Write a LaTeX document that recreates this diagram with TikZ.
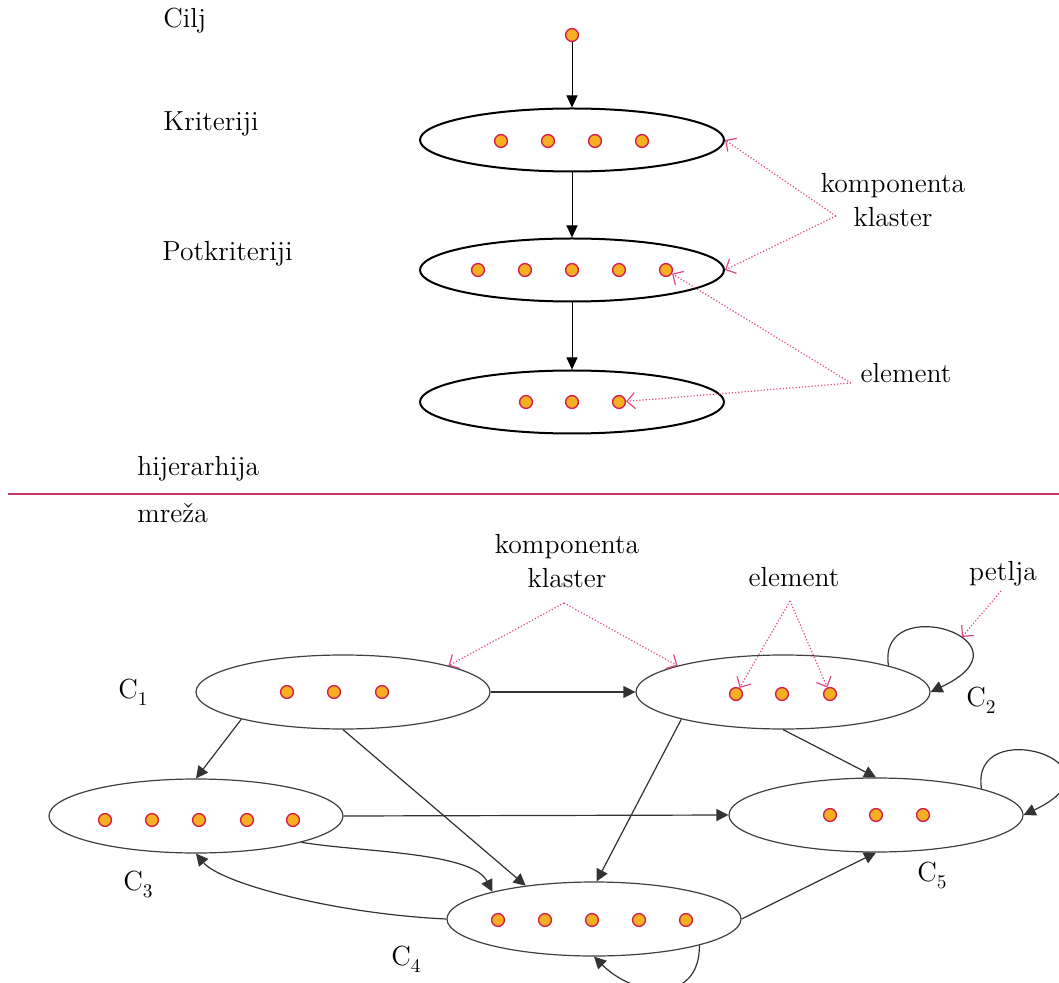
\documentclass[tikz,border=0pt]{standalone}
\usetikzlibrary{shapes.geometric,arrows.meta,calc}
\definecolor{dotfill}{HTML}{F5B022}
\definecolor{dotdraw}{HTML}{D61F4B}
\definecolor{annot}{HTML}{E0487E}
\definecolor{sepline}{HTML}{C43A62}
\newcommand{\subC}[1]{C\raisebox{-3.5pt}{\fontsize{9.7}{10}\selectfont #1}}
\begin{document}
\begin{tikzpicture}[x=0.5pt,y=-0.5pt,
  every node/.style={font=\fontsize{13.8}{17}\selectfont},
  eldot/.style={circle,fill=dotfill,draw=dotdraw,line width=0.7pt,minimum size=6.4pt,inner sep=0pt},
  topell/.style={ellipse,draw=black,line width=1pt,minimum width=152pt,minimum height=31.5pt,inner sep=0pt},
  netell/.style={ellipse,draw=black!75,line width=0.6pt,minimum width=147pt,minimum height=37pt,inner sep=0pt},
  toparr/.style={-{Triangle[length=6pt,width=5.5pt]},line width=0.5pt},
  netarr/.style={-{Triangle[length=6pt,width=6pt]},line width=0.6pt,draw=black!80,fill=black!80},
  annarr/.style={-{Straight Barb[length=4pt,width=8pt]},densely dotted,draw=annot,line width=0.6pt},
  lbl/.style={inner sep=0pt,anchor=base west},
]
\path[use as bounding box] (0,0) rectangle (1059,983);
\clip (0,0) rectangle (1059,983);

% ---------- hierarchy ----------
\node[lbl] (cilj) at (163,28) {Cilj};
\node[lbl] (krit) at (163,131) {Kriteriji};
\node[lbl] (potk) at (162,261) {Potkriteriji};
\node[lbl] (hij) at (137,476) {hijerarhija};

\node[eldot] (goal) at (572,35) {};
\node[topell] (kr) at (572,140) {};
\node[topell] (pk) at (572,270) {};
\node[topell] (al) at (572,402) {};
\foreach \x [count=\i] in {501,548,595,642} \node[eldot] (kr\i) at (\x,141) {};
\foreach \x [count=\i] in {478,525,572,619,666} \node[eldot] (pk\i) at (\x,270) {};
\foreach \x [count=\i] in {526,572,619} \node[eldot] (al\i) at (\x,402) {};

\draw[toparr] (goal) -- (kr.north);
\draw[toparr] (kr.south) -- (pk.north);
\draw[toparr] (pk.south) -- (al.north);

\node[align=center,inner sep=0pt] (kk1) at (893,200) {komponenta\\klaster};
\coordinate (kj1) at (836,216);
\draw[annarr] (kj1) -- (kr.east);
\draw[annarr] (kj1) -- (pk.east);
\node[lbl,anchor=base] (el1) at (906,383) {element};
\coordinate (ej1) at (851,383);
\draw[annarr] (ej1) -- (pk5);
\draw[annarr] (ej1) -- (al3);

% ---------- separator ----------
\coordinate (sepL) at (8,494);
\coordinate (sepR) at (1059,494);
\draw[sepline,line width=1pt] (sepL) -- (sepR);

% ---------- network ----------
\node[lbl] (mrz) at (137,523) {mreža};

\node[netell] (c1) at (343,692) {};
\node[netell] (c2) at (783,692) {};
\node[netell] (c3) at (196,816) {};
\node[netell] (c4) at (594,919) {};
\node[netell] (c5) at (876,815) {};
\foreach \x [count=\i] in {287,334,382} \node[eldot] (c1d\i) at (\x,692) {};
\foreach \x [count=\i] in {736,782,830} \node[eldot] (c2d\i) at (\x,694) {};
\foreach \x [count=\i] in {105,152,199,247,293} \node[eldot] (c3d\i) at (\x,820) {};
\foreach \x [count=\i] in {498,545,592,639,686} \node[eldot] (c4d\i) at (\x,920) {};
\foreach \x [count=\i] in {830,876,923} \node[eldot] (c5d\i) at (\x,815) {};

\node[lbl] (l1) at (118,698) {\subC{1}};
\node[lbl] (l2) at (966,706) {\subC{2}};
\node[lbl] (l3) at (123,890) {\subC{3}};
\node[lbl] (l4) at (391,965) {\subC{4}};
\node[lbl] (l5) at (917,881) {\subC{5}};

\draw[netarr] (c1.east) -- (c2.west);
\draw[netarr] (c1.195) -- (c3.north);
\draw[netarr] (c1.south) -- (c4.154);
\draw[netarr] (c2.195) -- (c4.86);
\draw[netarr] (c2.south) -- (c5.north);
\draw[netarr] (c3.east) -- (c5.west);
\draw[netarr] (c4.east) -- (c5.south);
\draw[netarr,fill=none] (c3.-14) .. controls +(60,10) and +(-20,-40) .. (c4.165);
\draw[netarr,fill=none] (c4.west) .. controls +(-110,-5) and +(25,30) .. (c3.south);
\draw[netarr,fill=none] (c2.14) .. controls +(-12,-76) and +(110,-52) .. (c2.east);
\draw[netarr,fill=none] (c5.14) .. controls +(-12,-76) and +(110,-52) .. (c5.east);
\draw[netarr,fill=none] (c4.-14) .. controls +(0,60) and +(40,40) .. (c4.south);

\node[align=center,inner sep=0pt] (kk2) at (567,561) {komponenta\\klaster};
\coordinate (kj2) at (564,603);
\draw[annarr] (kj2) -- (c1.14);
\draw[annarr] (kj2) -- (c2.166);
\node[lbl,anchor=base] (el2) at (794,586) {element};
\coordinate (ej2) at (790,601);
\draw[annarr] (ej2) -- (c2d1);
\draw[annarr] (ej2) -- (c2d3);
\node[lbl,anchor=base] (pt) at (1003,580) {petlja};
\coordinate (pj) at (1001,591);
\coordinate (ptip) at (962,637);
\draw[annarr] (pj) -- (ptip);
\end{tikzpicture}
\end{document}
